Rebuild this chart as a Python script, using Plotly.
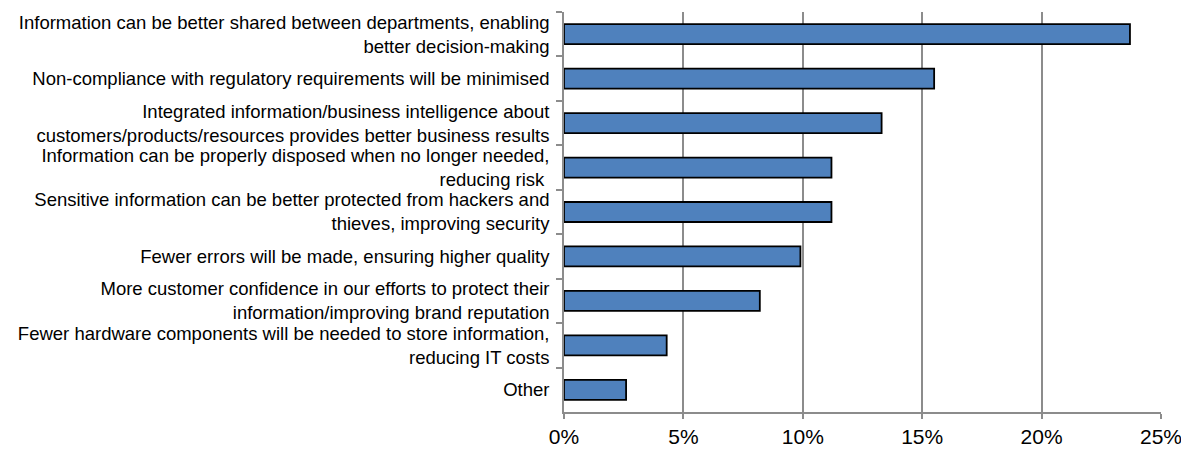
import plotly.graph_objects as go

categories = [
    "Information can be better shared between departments, enabling<br>better decision-making",
    "Non-compliance with regulatory requirements will be minimised",
    "Integrated information/business intelligence about<br>customers/products/resources provides better business results",
    "Information can be properly disposed when no longer needed,<br>reducing risk\u00a0",
    "Sensitive information can be better protected from hackers and<br>thieves, improving security",
    "Fewer errors will be made, ensuring higher quality",
    "More customer confidence in our efforts to protect their<br>information/improving brand reputation",
    "Fewer hardware components will be needed to store information,<br>reducing IT costs",
    "Other",
]
values = [23.7, 15.5, 13.3, 11.2, 11.2, 9.9, 8.2, 4.3, 2.6]
x_ticks = [0, 5, 10, 15, 20, 25]
x_tick_labels = ["0%", "5%", "10%", "15%", "20%", "25%"]

fig = go.Figure(
    go.Bar(
        x=values,
        y=categories,
        orientation="h",
        marker=dict(color="#4F81BD", line=dict(color="#000000", width=1.8)),
        hoverinfo="x+y",
    )
)

fig.update_layout(
    width=1181,
    height=444,
    margin=dict(l=556, r=28, t=4, b=34),
    paper_bgcolor="white",
    plot_bgcolor="white",
    bargap=0.55,
    showlegend=False,
    font=dict(family="Liberation Sans, Arial, sans-serif", color="#000000", size=18.5),
    xaxis=dict(
        range=[0, 25],
        tickvals=x_ticks,
        ticktext=x_tick_labels,
        showgrid=True,
        gridcolor="#8C8C8C",
        gridwidth=1.6,
        zeroline=False,
        showline=True,
        linecolor="#8C8C8C",
        linewidth=1.6,
        ticks="outside",
        ticklen=5,
        tickcolor="#8C8C8C",
        tickwidth=1.6,
        tickfont=dict(size=21),
    ),
    yaxis=dict(
        categoryorder="array",
        categoryarray=categories,
        autorange="reversed",
        showline=True,
        linecolor="#8C8C8C",
        linewidth=1.6,
        ticks="outside",
        tickson="boundaries",
        ticklen=6,
        tickcolor="#8C8C8C",
        tickwidth=1.6,
        ticklabelstandoff=9,
        showgrid=False,
    ),
)

fig.write_html("out.html")
